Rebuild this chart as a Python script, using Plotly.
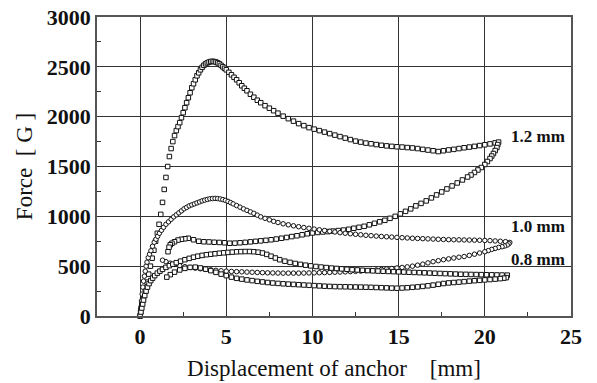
import plotly.graph_objects as go

# ---- data ----
x_12_load = [0, 0.03, 0.06, 0.1, 0.15, 0.2, 0.3, 0.4, 0.5, 0.6, 0.7, 0.8, 0.9, 1.0, 1.1, 1.2, 1.3, 1.4, 1.5, 1.6,
             1.7, 1.8, 1.9, 2.0, 2.1, 2.2, 2.3, 2.4, 2.5, 2.6, 2.7, 2.8, 2.9, 3.0, 3.1, 3.2, 3.3, 3.4, 3.5, 3.6,
             3.7, 3.8, 3.9, 4.0, 4.1, 4.2, 4.3, 4.4, 4.5, 4.6, 4.7, 4.8, 4.9, 5.0, 5.15, 5.3, 5.45, 5.6, 5.75, 5.9,
             6.05, 6.2, 6.4, 6.6, 6.8, 7.0, 7.25, 7.5, 7.75, 8.0, 8.3, 8.6, 8.9, 9.2, 9.5, 9.8, 10.1, 10.4, 10.7, 11.0,
             11.3, 11.6, 11.9, 12.2, 12.5, 12.8, 13.1, 13.4, 13.7, 14.0, 14.3, 14.6, 14.9, 15.2, 15.5, 15.8, 16.1, 16.4,
             16.7, 17.0, 17.3, 17.6, 17.9, 18.2, 18.5, 18.8, 19.1, 19.4, 19.7, 20.0, 20.3, 20.6, 20.8]
f_12_load = [0, 40, 80, 120, 170, 210, 270, 340, 420, 500, 580, 660, 750, 830, 920, 1020, 1140, 1270, 1390, 1500,
             1600, 1680, 1750, 1810, 1860, 1900, 1940, 1990, 2040, 2090, 2140, 2190, 2240, 2290, 2330, 2370, 2410, 2440, 2470, 2495,
             2515, 2530, 2540, 2548, 2553, 2555, 2553, 2548, 2540, 2530, 2515, 2500, 2485, 2470, 2445, 2420, 2395, 2370, 2340, 2310,
             2285, 2260, 2225, 2195, 2165, 2140, 2110, 2085, 2060, 2035, 2005, 1980, 1955, 1930, 1910, 1890, 1875, 1860, 1845, 1830,
             1815, 1800, 1785, 1770, 1755, 1745, 1735, 1728, 1720, 1713, 1707, 1702, 1698, 1695, 1690, 1686, 1680, 1672,
             1665, 1658, 1650, 1658, 1666, 1672, 1680, 1688, 1695, 1702, 1710, 1718, 1727, 1737, 1745]

x_12_unload = [20.75, 20.7, 20.6, 20.5, 20.4, 20.3, 20.15, 20.0, 19.8, 19.6, 19.4, 19.2, 19.0, 18.7, 18.4, 18.1, 17.8,
               17.5, 17.2, 16.9, 16.6, 16.3, 16.0, 15.7, 15.4, 15.1, 14.8, 14.5, 14.2, 13.9, 13.6, 13.3, 13.0, 12.7,
               12.4, 12.1, 11.8, 11.5, 11.2, 10.9, 10.6, 10.3, 10.0, 9.7, 9.4, 9.1, 8.8, 8.5, 8.2, 7.9, 7.6, 7.3, 7.0,
               6.7, 6.4, 6.1, 5.8, 5.5, 5.2, 4.9, 4.6, 4.3, 4.0, 3.7, 3.4, 3.1, 2.8, 2.6, 2.4, 2.2, 2.0, 1.85, 1.75,
               1.68, 1.62]
f_12_unload = [1720, 1690, 1660, 1630, 1605, 1580, 1550, 1520, 1490, 1465, 1440, 1415, 1395, 1365, 1335, 1305, 1275,
               1245, 1215, 1185, 1155, 1130, 1105, 1075, 1050, 1025, 1000, 980, 960, 945, 930, 915, 900, 890,
               880, 870, 862, 857, 852, 847, 843, 838, 833, 825, 815, 805, 797, 788, 780, 772, 765, 759, 754,
               749, 744, 739, 735, 731, 730, 735, 738, 740, 743, 745, 750, 765, 780, 775, 770, 762, 745, 730, 715,
               690, 645]

x_10_load = [0, 0.04, 0.08, 0.12, 0.16, 0.2, 0.25, 0.3, 0.35, 0.4, 0.47, 0.55, 0.63, 0.72, 0.82, 0.92, 1.02, 1.12,
             1.24, 1.36, 1.5, 1.65, 1.8, 1.95, 2.1, 2.25, 2.4, 2.55, 2.7, 2.85, 3.0, 3.15, 3.3, 3.45, 3.6, 3.75, 3.9,
             4.05, 4.2, 4.35, 4.5, 4.65, 4.8, 4.95, 5.1, 5.25, 5.4, 5.6, 5.8, 6.0, 6.2, 6.4, 6.6, 6.8, 7.0, 7.25,
             7.5, 7.75, 8.0, 8.3, 8.6, 8.9, 9.2, 9.5, 9.8, 10.1, 10.4, 10.7, 11.0, 11.3, 11.6, 11.9, 12.2, 12.5,
             12.8, 13.1, 13.4, 13.7, 14.0, 14.3, 14.6, 14.9, 15.2, 15.5, 15.8, 16.1, 16.4, 16.7, 17.0, 17.3, 17.6,
             17.9, 18.2, 18.5, 18.8, 19.1, 19.4, 19.7, 20.0, 20.3, 20.6, 20.9, 21.2, 21.45]
f_10_load = [0, 70, 150, 220, 290, 350, 400, 450, 500, 540, 585, 620, 655, 700, 740, 770, 800, 830,
             860, 890, 920, 945, 970, 995, 1015, 1035, 1055, 1075, 1090, 1105, 1115, 1125, 1135, 1145, 1155, 1163, 1170,
             1176, 1178, 1180, 1178, 1174, 1168, 1160, 1150, 1138, 1125, 1108, 1092, 1075, 1060, 1045, 1030, 1012, 995, 980,
             965, 950, 938, 925, 915, 905, 896, 888, 880, 872, 865, 858, 850, 843, 836, 830, 825, 820,
             815, 810, 806, 802, 798, 795, 792, 789, 786, 783, 780, 778, 776, 774, 772, 770, 768,
             766, 765, 764, 763, 762, 761, 760, 758, 756, 753, 750, 746, 738]

x_10_unload = [21.4, 21.3, 21.15, 21.0, 20.8, 20.6, 20.4, 20.2, 20.0, 19.7, 19.4, 19.1, 18.8, 18.5, 18.2, 17.9,
               17.6, 17.3, 17.0, 16.7, 16.4, 16.1, 15.8, 15.5, 15.2, 14.9, 14.6, 14.3, 14.0, 13.7, 13.4, 13.1, 12.8,
               12.5, 12.2, 11.9, 11.6, 11.3, 11.0, 10.7, 10.4, 10.1, 9.8, 9.5, 9.2, 8.9, 8.6, 8.3, 8.0, 7.7, 7.4,
               7.1, 6.8, 6.5, 6.2, 5.9, 5.6, 5.3, 5.0, 4.7, 4.4, 4.1, 3.8, 3.5, 3.2, 2.9, 2.6, 2.3, 2.0, 1.75, 1.5, 1.3]
f_10_unload = [725, 712, 702, 695, 688, 678, 668, 656, 645, 632, 620, 608, 597, 590, 582, 573,
               565, 555, 545, 533, 520, 510, 500, 493, 487, 482, 477, 472, 467, 462, 458, 455, 451,
               448, 445, 443, 441, 439, 437, 435, 434, 433, 432, 431, 430, 430, 430, 430, 431, 432, 433,
               435, 437, 439, 441, 443, 445, 447, 450, 454, 458, 463, 468, 474, 480, 487, 495, 505, 518, 530, 545, 560]

x_08_load = [0, 0.05, 0.1, 0.15, 0.2, 0.27, 0.35, 0.43, 0.52, 0.62, 0.73, 0.85, 1.0, 1.15, 1.3, 1.5, 1.7, 1.9, 2.1,
             2.35, 2.6, 2.85, 3.1, 3.35, 3.6, 3.85, 4.1, 4.35, 4.6, 4.85, 5.1, 5.35, 5.6, 5.85, 6.1, 6.35, 6.6, 6.85,
             7.1, 7.35, 7.6, 7.85, 8.1, 8.4, 8.7, 9.0, 9.3, 9.6, 9.9, 10.2, 10.5, 10.8, 11.1, 11.4, 11.7, 12.0, 12.3,
             12.6, 12.9, 13.2, 13.5, 13.8, 14.1, 14.4, 14.7, 15.0, 15.3, 15.6, 15.9, 16.2, 16.5, 16.8, 17.1, 17.4,
             17.7, 18.0, 18.3, 18.6, 18.9, 19.2, 19.5, 19.8, 20.1, 20.4, 20.7, 21.0, 21.3]
f_08_load = [0, 40, 80, 120, 160, 205, 250, 290, 325, 355, 380, 405, 430, 450, 468, 488, 505, 520, 535,
             550, 565, 578, 590, 600, 608, 615, 620, 625, 630, 634, 638, 641, 644, 646, 647, 647, 645, 640,
             632, 618, 600, 582, 565, 550, 538, 527, 518, 510, 503, 497, 491, 486, 481, 477, 473, 469, 465,
             462, 459, 456, 453, 451, 449, 447, 445, 443, 441, 439, 437, 435, 433, 431, 429, 427,
             425, 423, 421, 419, 418, 417, 416, 415, 414, 413, 412, 411, 410]

x_08_unload = [21.25, 21.1, 20.9, 20.6, 20.3, 20.0, 19.7, 19.4, 19.1, 18.8, 18.5, 18.2, 17.9, 17.6, 17.3, 17.0,
               16.7, 16.4, 16.1, 15.8, 15.5, 15.2, 14.9, 14.6, 14.3, 14.0, 13.7, 13.4, 13.1, 12.8, 12.5, 12.2, 11.9,
               11.6, 11.3, 11.0, 10.7, 10.4, 10.1, 9.8, 9.5, 9.2, 8.9, 8.6, 8.3, 8.0, 7.7, 7.4, 7.1, 6.8, 6.5, 6.2,
               5.9, 5.6, 5.3, 5.0, 4.7, 4.4, 4.1, 3.8, 3.5, 3.2, 2.9, 2.6, 2.3, 2.0, 1.75, 1.55]
f_08_unload = [385, 380, 375, 370, 366, 362, 358, 354, 350, 345, 340, 336, 332, 326, 318, 310,
               303, 297, 292, 288, 284, 281, 279, 280, 282, 284, 286, 288, 289, 290, 291, 292, 293,
               294, 295, 297, 299, 302, 305, 308, 311, 314, 317, 320, 323, 327, 331, 336, 342, 348, 355, 362,
               370, 378, 390, 405, 420, 438, 455, 470, 482, 490, 488, 478, 462, 440, 415, 390]

labels = ["1.2 mm", "1.0 mm", "0.8 mm"]
label_x = [23.1, 23.1, 23.1]
label_y = [1800, 900, 565]

x_ticks = [0, 5, 10, 15, 20, 25]
y_ticks = [0, 500, 1000, 1500, 2000, 2500, 3000]

series = [
    (x_12_load, f_12_load, "square"),
    (x_12_unload, f_12_unload, "square"),
    (x_10_load, f_10_load, "circle"),
    (x_10_unload, f_10_unload, "circle"),
    (x_08_load, f_08_load, "square"),
    (x_08_unload, f_08_unload, "square"),
]

fig = go.Figure()
for xs, fs, sym in series:
    fig.add_trace(go.Scatter(
        x=xs, y=fs, mode="markers", showlegend=False, cliponaxis=False,
        marker=dict(symbol=sym, size=4.5, color="white",
                    line=dict(color="#111111", width=1)),
    ))

for t, lx, ly in zip(labels, label_x, label_y):
    fig.add_annotation(x=lx, y=ly, xref="x", yref="y", text="<b>%s</b>" % t,
                       showarrow=False, xanchor="center", yanchor="middle",
                       font=dict(family="Liberation Serif", size=17, color="#111111"))

tickfont = dict(family="Liberation Serif", size=22, color="#111111", weight="bold")
titlefont = dict(family="Liberation Serif", size=23, color="#111111")

fig.update_layout(
    width=597, height=383,
    margin=dict(l=97, r=26, t=17, b=67, autoexpand=False),
    paper_bgcolor="white", plot_bgcolor="white",
    xaxis=dict(
        range=[-2.5, 25], tickvals=x_ticks, ticktext=[str(v) for v in x_ticks],
        showgrid=True, gridcolor="#333333", gridwidth=1,
        showline=True, linecolor="#555555", linewidth=1.5, mirror=True,
        ticks="", zeroline=False, tickfont=tickfont, automargin=False,
        ticklabeloverflow="allow",
        minor=dict(tickvals=[2.5, 7.5, 12.5, 17.5, 22.5], ticks="inside", ticklen=4,
                   tickcolor="#333333", showgrid=False),
        title=dict(text="Displacement of anchor\u00a0\u00a0\u00a0 [mm]", font=titlefont, standoff=12),
    ),
    yaxis=dict(
        range=[0, 3000], tickvals=y_ticks, ticktext=[str(v) for v in y_ticks],
        showgrid=True, gridcolor="#333333", gridwidth=1,
        showline=True, linecolor="#555555", linewidth=1.5, mirror=True,
        ticks="", zeroline=False, tickfont=tickfont, automargin=False,
        ticklabeloverflow="allow",
        minor=dict(tickvals=[250, 750, 1250, 1750, 2250, 2750], ticks="inside", ticklen=4,
                   tickcolor="#333333", showgrid=False),
        title=dict(text="Force\u00a0\u00a0[ G ]", font=titlefont, standoff=8),
    ),
)

# remove the default 8px page margin so the figure fills the window exactly
fig.write_html("out.html", config={"displayModeBar": False},
               post_script="document.body.style.margin='0';")
